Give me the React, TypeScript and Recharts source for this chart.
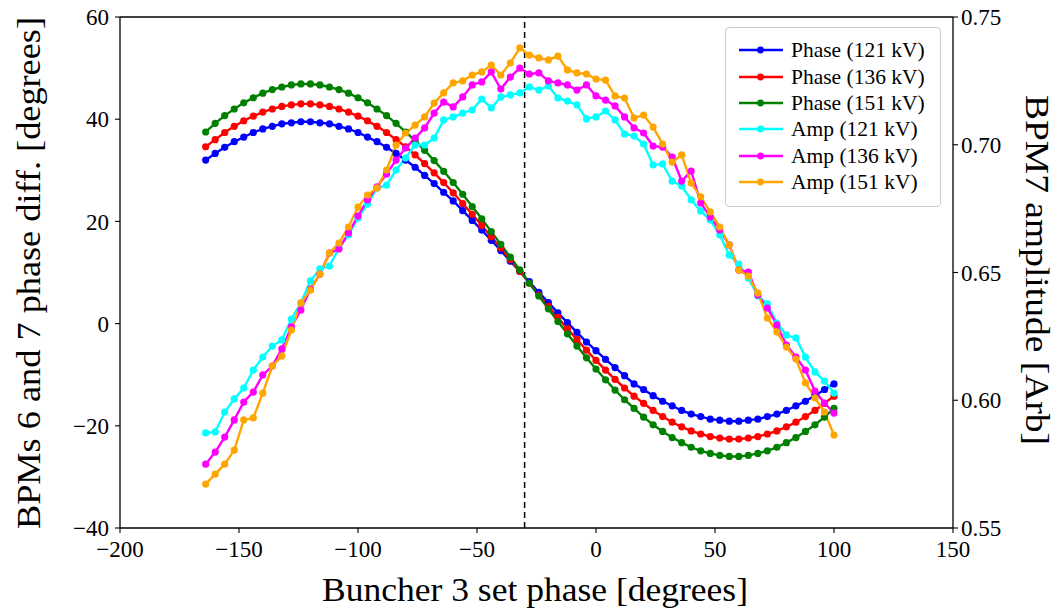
import React from 'react';
import { LineChart, Line, XAxis, YAxis, ReferenceLine, Legend } from 'recharts';

const FONT = "'Liberation Serif', 'DejaVu Serif', serif";

// Buncher 3 set phase [degrees]
const setPhase = [
  -164, -160, -156, -152, -148, -144, -140, -136, -132, -128, -124, -120, -116, -112, -108, -104,
  -100, -96, -92, -88, -84, -80, -76, -72, -68, -64, -60, -56, -52, -48, -44, -40, -36, -32, -28,
  -24, -20, -16, -12, -8, -4, 0, 4, 8, 12, 16, 20, 24, 28, 32, 36, 40, 44, 48, 52, 56, 60, 64, 68,
  72, 76, 80, 84, 88, 92, 96, 100,
];

// BPMs 6 and 7 phase difference [degrees]
const phase121 = [
  32.0, 33.3, 34.5, 35.6, 36.5, 37.4, 38.1, 38.6, 39.1, 39.3, 39.5, 39.5, 39.3, 39.1, 38.6, 38.1,
  37.4, 36.5, 35.6, 34.5, 33.3, 32.0, 30.6, 29.0, 27.4, 25.7, 24.0, 22.1, 20.2, 18.3, 16.3, 14.3,
  12.2, 10.2, 8.2, 6.1, 4.1, 2.1, 0.2, -1.7, -3.6, -5.3, -7.0, -8.6, -10.2, -11.8, -12.9, -14.1,
  -15.2, -16.1, -17.0, -17.7, -18.2, -18.7, -18.9, -19.1, -19.1, -18.9, -18.7, -18.2, -17.7, -17.0,
  -16.1, -15.2, -14.1, -12.9, -11.8,
];
const phase136 = [
  34.6, 36.0, 37.4, 38.6, 39.7, 40.6, 41.4, 42.0, 42.5, 42.8, 43.0, 43.0, 42.8, 42.5, 42.0, 41.4,
  40.6, 39.7, 38.6, 37.4, 36.0, 34.6, 33.0, 31.3, 29.5, 27.6, 25.6, 23.5, 21.4, 19.2, 17.0, 14.8,
  12.5, 10.2, 7.9, 5.6, 3.4, 1.2, -1.0, -3.1, -5.2, -7.2, -9.1, -10.9, -12.6, -14.2, -15.6, -17.0,
  -18.2, -19.3, -20.2, -21.0, -21.6, -22.1, -22.4, -22.6, -22.6, -22.4, -22.1, -21.6, -21.0, -20.2,
  -19.3, -18.2, -17.0, -15.6, -14.2,
];
const phase151 = [
  37.5, 39.2, 40.7, 42.0, 43.2, 44.2, 45.1, 45.8, 46.3, 46.7, 46.9, 46.9, 46.7, 46.3, 45.8, 45.1,
  44.2, 43.2, 42.0, 40.7, 39.2, 37.5, 35.8, 33.9, 31.9, 29.8, 27.6, 25.3, 22.9, 20.5, 18.0, 15.5,
  13.0, 10.5, 7.9, 5.4, 2.9, 0.4, -2.0, -4.4, -6.7, -8.9, -11.0, -13.0, -14.9, -16.6, -18.3, -19.8,
  -21.1, -22.3, -23.3, -24.2, -24.9, -25.4, -25.8, -26.0, -26.0, -25.8, -25.4, -24.9, -24.2, -23.3,
  -22.3, -21.1, -19.8, -18.3, -16.6,
];

// BPM7 amplitude [Arb]
const amp121 = [
  0.5872, 0.5876, 0.5954, 0.6005, 0.6048, 0.6118, 0.6169, 0.6212, 0.6236, 0.6318, 0.6381, 0.6467,
  0.6514, 0.6525, 0.6596, 0.6647, 0.6713, 0.6768, 0.6831, 0.6842, 0.6901, 0.6948, 0.6999, 0.6999,
  0.7026, 0.7097, 0.7109, 0.7124, 0.7136, 0.7179, 0.7144, 0.7187, 0.7195, 0.7203, 0.7226, 0.7214,
  0.723, 0.7183, 0.7171, 0.7156, 0.7101, 0.7109, 0.7132, 0.7097, 0.7042, 0.7034, 0.7003, 0.6921,
  0.6925, 0.6858, 0.6839, 0.6784, 0.6741, 0.6705, 0.6647, 0.6568, 0.6533, 0.6478, 0.6408, 0.6377,
  0.6302, 0.6255, 0.6244, 0.6169, 0.6111, 0.6075, 0.6028,
];
const amp136 = [
  0.575, 0.5797, 0.5856, 0.5923, 0.5993, 0.6032, 0.6099, 0.6134, 0.6201, 0.6287, 0.6353, 0.6435,
  0.6494, 0.6576, 0.6592, 0.6655, 0.6721, 0.6784, 0.6835, 0.6886, 0.694, 0.6987, 0.7026, 0.7066,
  0.7124, 0.7167, 0.7148, 0.7187, 0.7234, 0.7246, 0.7285, 0.7218, 0.7265, 0.73, 0.7277, 0.7281,
  0.725, 0.7242, 0.7234, 0.7214, 0.7234, 0.7191, 0.7175, 0.7152, 0.7109, 0.7066, 0.7046, 0.6995,
  0.6991, 0.6952, 0.6858, 0.6897, 0.6772, 0.6717, 0.6666, 0.6608, 0.651, 0.6502, 0.6412, 0.6361,
  0.6295, 0.6216, 0.6169, 0.6118, 0.6036, 0.5989, 0.595,
];
const amp151 = [
  0.5672, 0.5711, 0.575, 0.5805, 0.5923, 0.5931, 0.6028, 0.6134, 0.6173, 0.6275, 0.6381, 0.6431,
  0.6494, 0.6576, 0.6615, 0.6678, 0.6756, 0.6803, 0.6831, 0.6901, 0.6999, 0.7046, 0.7077, 0.7109,
  0.7163, 0.7203, 0.7242, 0.725, 0.7273, 0.7285, 0.7312, 0.7273, 0.732, 0.7379, 0.7351, 0.734,
  0.7332, 0.7347, 0.7293, 0.7281, 0.7277, 0.7257, 0.7253, 0.7191, 0.7183, 0.7105, 0.7116, 0.7069,
  0.7003, 0.6932, 0.696, 0.685, 0.6796, 0.6737, 0.6678, 0.6608, 0.651, 0.6486, 0.642, 0.6322,
  0.6267, 0.6208, 0.6161, 0.6068, 0.6009, 0.5954, 0.5864,
];

const xTicks = [-200, -150, -100, -50, 0, 50, 100, 150];
const xMinorTicks = [
  -200, -190, -180, -170, -160, -150, -140, -130, -120, -110, -100, -90, -80, -70, -60, -50, -40,
  -30, -20, -10, 0, 10, 20, 30, 40, 50, 60, 70, 80, 90, 100, 110, 120, 130, 140, 150,
];
const leftTicks = [-40, -20, 0, 20, 40, 60];
const leftMinorTicks = [-40, -35, -30, -25, -20, -15, -10, -5, 0, 5, 10, 15, 20, 25, 30, 35, 40, 45, 50, 55, 60];
const rightTicks = [0.55, 0.6, 0.65, 0.7, 0.75];
const rightMinorTicks = [
  0.55, 0.56, 0.57, 0.58, 0.59, 0.6, 0.61, 0.62, 0.63, 0.64, 0.65, 0.66, 0.67, 0.68, 0.69, 0.7,
  0.71, 0.72, 0.73, 0.74, 0.75,
];
const markerPhase = -30;

const seriesList = [
  { key: 'p121', name: 'Phase (121 kV)', color: '#0000ff', axis: 'left', values: phase121 },
  { key: 'p136', name: 'Phase (136 kV)', color: '#ff0000', axis: 'left', values: phase136 },
  { key: 'p151', name: 'Phase (151 kV)', color: '#008000', axis: 'left', values: phase151 },
  { key: 'a121', name: 'Amp (121 kV)', color: '#00ffff', axis: 'right', values: amp121 },
  { key: 'a136', name: 'Amp (136 kV)', color: '#ff00ff', axis: 'right', values: amp136 },
  { key: 'a151', name: 'Amp (151 kV)', color: '#ffa500', axis: 'right', values: amp151 },
];

const data = setPhase.map((x, i) => {
  const row: Record<string, number> = { x };
  seriesList.forEach((s) => {
    row[s.key] = s.values[i];
  });
  return row;
});

const fmtMinus = (v: number) => (v < 0 ? '\u2212' + Math.abs(v) : String(v));

const tickStyle = { fill: '#000', fontSize: 23, fontFamily: FONT };

const LegendBox = () => (
  <div
    style={{
      width: 216,
      height: 180,
      boxSizing: 'border-box',
      border: '1px solid #cccccc',
      borderRadius: 4,
      background: 'rgba(255,255,255,0.85)',
      paddingTop: 9,
      fontFamily: FONT,
    }}
  >
    {seriesList.map((s) => (
      <div key={s.key} style={{ display: 'flex', alignItems: 'center', height: 26.4 }}>
        <svg width={65} height={26} style={{ flex: 'none' }}>
          <line x1={13} x2={57} y1={13} y2={13} stroke={s.color} strokeWidth={2.6} />
          <circle cx={34.5} cy={13} r={3.4} fill={s.color} />
        </svg>
        <span style={{ fontSize: 21.5, color: '#000', whiteSpace: 'nowrap', lineHeight: '26px' }}>{s.name}</span>
      </div>
    ))}
  </div>
);

export default function App() {
  return (
    <div style={{ position: 'absolute', left: 0, top: 0, width: 1058, height: 610, background: '#fff' }}>
      <LineChart
        width={1058}
        height={610}
        data={data}
        margin={{ top: 17, right: 25, bottom: 42, left: 40 }}
      >
        <XAxis
          xAxisId={0}
          dataKey="x"
          type="number"
          domain={[-200, 150]}
          ticks={xTicks}
          interval={0}
          height={40}
          tickSize={5}
          tickMargin={8}
          tick={tickStyle}
          tickFormatter={fmtMinus}
          axisLine={{ stroke: '#000', strokeWidth: 1.3 }}
          tickLine={{ stroke: '#000', strokeWidth: 1.1 }}
        />
        <XAxis
          xAxisId="minor"
          dataKey="x"
          type="number"
          domain={[-200, 150]}
          ticks={xMinorTicks}
          interval={0}
          mirror
          tick={false}
          tickSize={4}
          axisLine={false}
          tickLine={{ stroke: '#000', strokeWidth: 0.9 }}
        />
        <YAxis
          yAxisId="left"
          orientation="left"
          type="number"
          domain={[-40, 60]}
          ticks={leftTicks}
          interval={0}
          width={80}
          tickSize={5}
          tickMargin={6}
          tick={tickStyle}
          tickFormatter={fmtMinus}
          axisLine={{ stroke: '#000', strokeWidth: 1.3 }}
          tickLine={{ stroke: '#000', strokeWidth: 1.1 }}
        />
        <YAxis
          yAxisId="leftMinor"
          orientation="left"
          type="number"
          domain={[-40, 60]}
          ticks={leftMinorTicks}
          interval={0}
          mirror
          tick={false}
          tickSize={4}
          axisLine={false}
          tickLine={{ stroke: '#000', strokeWidth: 0.9 }}
        />
        <YAxis
          yAxisId="right"
          orientation="right"
          type="number"
          domain={[0.55, 0.75]}
          ticks={rightTicks}
          interval={0}
          width={80}
          tickSize={5}
          tickMargin={3}
          tick={tickStyle}
          tickFormatter={(v: number) => v.toFixed(2)}
          axisLine={{ stroke: '#000', strokeWidth: 1.3 }}
          tickLine={{ stroke: '#000', strokeWidth: 1.1 }}
        />
        <YAxis
          yAxisId="rightMinor"
          orientation="right"
          type="number"
          domain={[0.55, 0.75]}
          ticks={rightMinorTicks}
          interval={0}
          mirror
          tick={false}
          tickSize={4}
          axisLine={false}
          tickLine={{ stroke: '#000', strokeWidth: 0.9 }}
        />
        <ReferenceLine yAxisId="left" y={60} stroke="#000" strokeWidth={1.3} />
        <ReferenceLine yAxisId="left" x={markerPhase} stroke="#000" strokeWidth={1.5} strokeDasharray="6 4" />
        {seriesList.map((s) => (
          <Line
            key={s.key}
            yAxisId={s.axis}
            xAxisId={0}
            type="linear"
            dataKey={s.key}
            name={s.name}
            stroke={s.color}
            strokeWidth={2.4}
            dot={{ r: 3.6, fill: s.color, stroke: s.color, strokeWidth: 0 }}
            activeDot={false}
            isAnimationActive={false}
          />
        ))}
        <Legend
          layout="horizontal"
          verticalAlign="middle"
          align="center"
          content={LegendBox}
          wrapperStyle={{ left: 725, top: 27, width: 216, height: 180 }}
        />
      </LineChart>
      <svg
        width={1058}
        height={610}
        style={{ position: 'absolute', left: 0, top: 0, pointerEvents: 'none' }}
      >
        <text
          x={535}
          y={601}
          textAnchor="middle"
          fontFamily={FONT}
          fontSize={34}
          fill="#000"
          textLength={426}
          lengthAdjust="spacingAndGlyphs"
        >
          Buncher 3 set phase [degrees]
        </text>
        <text
          transform="translate(40,273) rotate(-90)"
          textAnchor="middle"
          fontFamily={FONT}
          fontSize={34}
          fill="#000"
          textLength={512}
          lengthAdjust="spacingAndGlyphs"
        >
          BPMs 6 and 7 phase diff. [degrees]
        </text>
        <text
          transform="translate(1026,270) rotate(90)"
          textAnchor="middle"
          fontFamily={FONT}
          fontSize={34}
          fill="#000"
          textLength={350}
          lengthAdjust="spacingAndGlyphs"
        >
          BPM7 amplitude [Arb]
        </text>
      </svg>
    </div>
  );
}
